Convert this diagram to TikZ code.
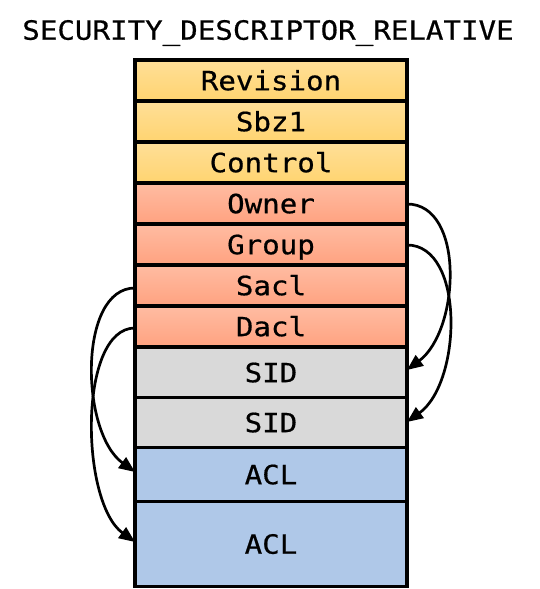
\documentclass[tikz,border=0pt]{standalone}
\usepackage{fontspec}
\newfontfamily\monofont[FakeStretch=1.1,FakeBold=0.6]{DejaVu Sans Mono}
\usetikzlibrary{arrows.meta}
\definecolor{ytop}{RGB}{255,223,152}
\definecolor{ybot}{RGB}{255,212,112}
\definecolor{stop}{RGB}{255,188,162}
\definecolor{sbot}{RGB}{255,162,128}
\definecolor{sidgray}{RGB}{217,217,217}
\definecolor{aclblue}{RGB}{175,200,232}
\tikzset{
  txt/.style={font=\monofont\fontsize{26.5}{30}\selectfont, text height=19.4pt, text depth=0pt, inner sep=0pt},
  cell/.style={txt, draw=black, line width=3.1pt, minimum width=272pt},
  yel/.style={cell, top color=ytop, bottom color=ybot, minimum height=41pt},
  sal/.style={cell, top color=stop, bottom color=sbot, minimum height=41pt},
  sidbox/.style={cell, fill=sidgray, minimum height=50pt},
  aclbox/.style={cell, fill=aclblue},
  link/.style={line width=2.7pt, -{Triangle[length=16pt,width=13pt]}},
}
\begin{document}
\begin{tikzpicture}[x=1pt,y=-1pt]
\useasboundingbox (0,0) rectangle (539,589);
\node[txt] (title) at (268,30) {SECURITY\_DESCRIPTOR\_RELATIVE};
\node[yel] (rev) at (271,80.5) {Revision};
\node[yel] (sbz) at (271,121.5) {Sbz1};
\node[yel] (ctl) at (271,162.5) {Control};
\node[sal] (own) at (271,203.5) {Owner};
\node[sal] (grp) at (271,244.5) {Group};
\node[sal] (sacl) at (271,285.5) {Sacl};
\node[sal] (dacl) at (271,326.5) {Dacl};
\node[sidbox] (sid1) at (271,372.5) {SID};
\node[sidbox] (sid2) at (271,422.5) {SID};
\node[aclbox, minimum height=54pt] (acl1) at (271,474.5) {ACL};
\node[aclbox, minimum height=85pt] (acl2) at (271,544) {ACL};
% connectors
\coordinate (o1) at (407,204);
\coordinate (o2) at (407,370);
\coordinate (g1) at (407,245);
\coordinate (g2) at (407,422);
\coordinate (s1) at (135,288);
\coordinate (s2) at (135,472);
\coordinate (d1) at (135,328);
\coordinate (d2) at (135,542);
\draw[link] (o1) .. controls (465,204) and (460,330) .. (o2);
\draw[link] (g1) .. controls (465,245) and (462,382) .. (g2);
\draw[link] (s1) .. controls (78,288) and (80,432) .. (s2);
\draw[link] (d1) .. controls (78,328) and (80,502) .. (d2);
\end{tikzpicture}
\end{document}
